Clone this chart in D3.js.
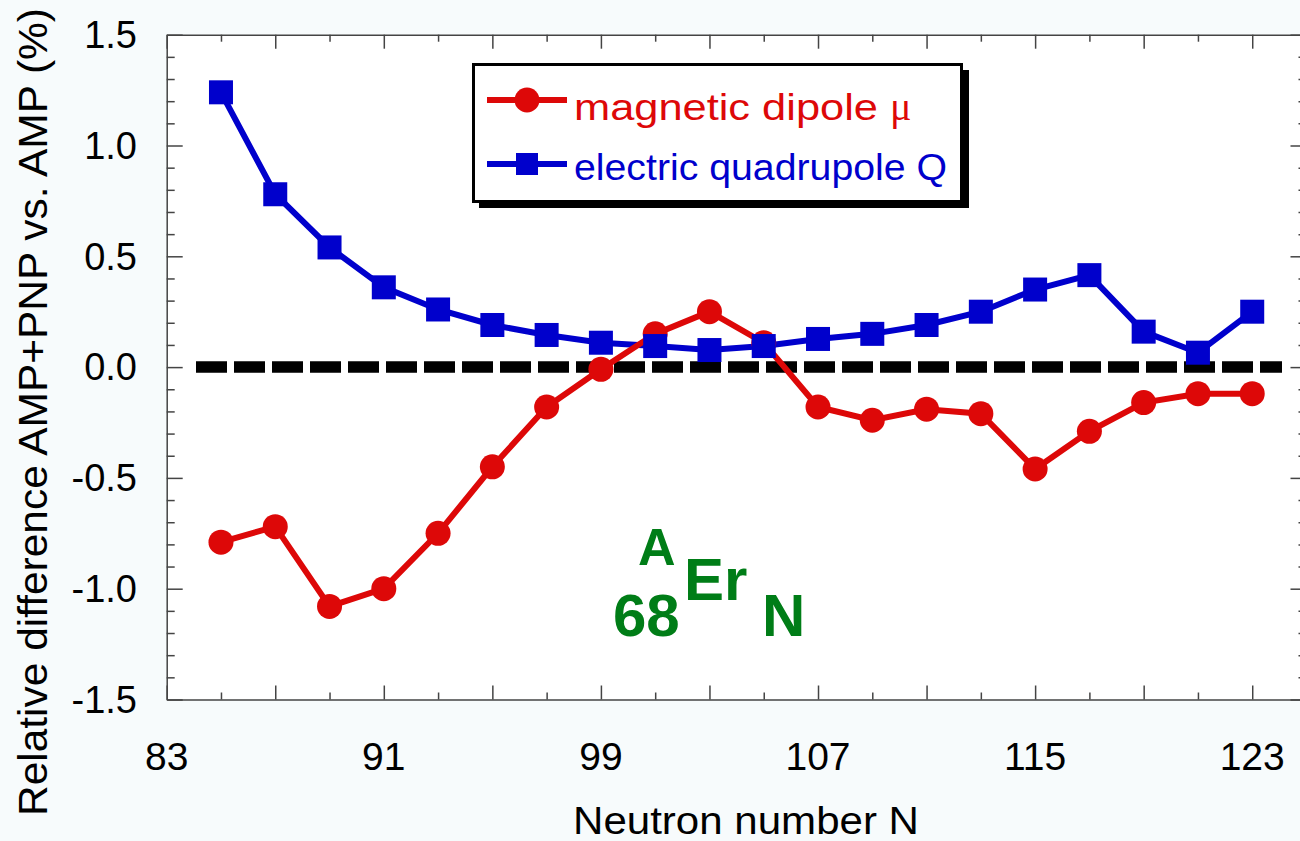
<!DOCTYPE html>
<html>
<head>
  <meta charset="utf-8">
  <title>Er isotopes: AMP+PNP vs AMP</title>
  <style>
    body { margin: 0; background: #f7fbfc; }
    svg { display: block; font-family: "Liberation Sans", Arial, sans-serif; }
  </style>
  <script src="https://d3js.org/d3.v7.min.js"></script>
</head>
<body>
  <div id="chart"></div>
  <script>
    // neutron numbers and the two series (percent)
    const neutrons = [85, 87, 89, 91, 93, 95, 97, 99, 101, 103, 105, 107, 109, 111, 113, 115, 117, 119, 121, 123];
    const dipole = [-0.79, -0.72, -1.08, -1.00, -0.75, -0.45, -0.18, -0.01, 0.15, 0.25, 0.11, -0.18, -0.24, -0.19, -0.21, -0.46, -0.29, -0.16, -0.12, -0.12];
    const quadrupole = [1.24, 0.78, 0.54, 0.36, 0.26, 0.19, 0.145, 0.11, 0.095, 0.077, 0.095, 0.127, 0.15, 0.19, 0.25, 0.35, 0.415, 0.16, 0.065, 0.25];
    const xTickLabels = [83, 91, 99, 107, 115, 123];
    const yTickLabels = [1.5, 1.0, 0.5, 0.0, -0.5, -1.0, -1.5];

    const W = 1300, H = 841;
    const plot = { left: 166.7, right: 1306.5, top: 34.7, bottom: 699.5 };

    const x = d3.scaleLinear().domain([83, 125]).range([plot.left, plot.right]);
    const y = d3.scaleLinear().domain([-1.5, 1.5]).range([plot.bottom, plot.top]);

    const red = '#dd0808', blue = '#0000cc', green = '#007d17';

    const svg = d3.select('#chart').append('svg')
      .attr('width', W)
      .attr('height', H);

    svg.append('rect').attr('width', W).attr('height', H).attr('fill', '#f7fbfc');
    svg.append('rect')
      .attr('x', plot.left).attr('y', plot.top)
      .attr('width', plot.right - plot.left).attr('height', plot.bottom - plot.top)
      .attr('fill', '#fff');

    // ticks, all pointing into the frame
    const xTicks = d3.range(83, 126, 2);
    const yTicks = d3.range(-15, 16).map(d => d / 10);
    const xLen = d => ((d - 83) % 4 === 0 ? 14 : 7);
    const yLen = d => (Math.round(d * 10) % 5 === 0 ? 16 : 8);

    function axis(gen, tr, sizeFn, ticks) {
      const g = svg.append('g').attr('transform', tr);
      g.call(gen.tickValues(ticks).tickFormat('').tickSizeOuter(0));
      g.selectAll('.tick line').each(function (d) {
        const el = d3.select(this), s = sizeFn(d);
        if (el.attr('y2') !== null && +el.attr('y2') !== 0) el.attr('y2', Math.sign(+el.attr('y2')) * s);
        if (el.attr('x2') !== null && +el.attr('x2') !== 0) el.attr('x2', Math.sign(+el.attr('x2')) * s);
      });
      g.selectAll('line, path').attr('stroke', '#444').attr('stroke-width', 1.5);
      return g;
    }
    axis(d3.axisBottom(x).tickSizeInner(-1), `translate(0,${plot.bottom})`, xLen, xTicks);
    axis(d3.axisTop(x).tickSizeInner(-1), `translate(0,${plot.top})`, xLen, xTicks);
    axis(d3.axisLeft(y).tickSizeInner(-1), `translate(${plot.left},0)`, yLen, yTicks);
    axis(d3.axisRight(y).tickSizeInner(-1), `translate(${plot.right},0)`, yLen, yTicks);

    // tick labels
    svg.append('g').selectAll('text').data(xTickLabels).join('text')
      .attr('x', d => x(d)).attr('y', 770)
      .attr('text-anchor', 'middle').attr('font-size', 39).attr('fill', '#000')
      .text(d => d);
    svg.append('g').selectAll('text').data(yTickLabels).join('text')
      .attr('x', 137).attr('y', d => y(d)).attr('dy', '0.35em')
      .attr('text-anchor', 'end').attr('font-size', 38).attr('fill', '#000')
      .text(d => d3.format('.1f')(d).replace('−', '-'));

    // axis titles
    svg.append('text')
      .attr('x', 746).attr('y', 834)
      .attr('text-anchor', 'middle').attr('font-size', 38)
      .attr('textLength', 346).attr('lengthAdjust', 'spacingAndGlyphs')
      .text('Neutron number N');
    svg.append('text')
      .attr('transform', 'translate(47,412) rotate(-90)')
      .attr('text-anchor', 'middle').attr('font-size', 40)
      .attr('textLength', 808).attr('lengthAdjust', 'spacingAndGlyphs')
      .text('Relative difference AMP+PNP vs. AMP (%)');

    // zero reference line
    svg.append('line')
      .attr('x1', 196).attr('x2', 1282)
      .attr('y1', y(0)).attr('y2', y(0))
      .attr('stroke', '#000').attr('stroke-width', 11.5)
      .attr('stroke-dasharray', '31 7');

    const line = d3.line().x(d => x(d[0])).y(d => y(d[1]));
    const dipPts = neutrons.map((n, i) => [n, dipole[i]]);
    const quadPts = neutrons.map((n, i) => [n, quadrupole[i]]);

    // quadrupole first, dipole on top where they overlap, then squares over
    svg.append('path').datum(quadPts).attr('d', line)
      .attr('fill', 'none').attr('stroke', blue).attr('stroke-width', 6);
    svg.append('path').datum(dipPts).attr('d', line)
      .attr('fill', 'none').attr('stroke', red).attr('stroke-width', 6);
    svg.append('g').selectAll('circle').data(dipPts).join('circle')
      .attr('cx', d => x(d[0])).attr('cy', d => y(d[1])).attr('r', 12.5)
      .attr('fill', red);
    svg.append('g').selectAll('rect').data(quadPts).join('rect')
      .attr('x', d => x(d[0]) - 12).attr('y', d => y(d[1]) - 12)
      .attr('width', 24).attr('height', 24)
      .attr('fill', blue);

    // legend with drop shadow
    const lg = svg.append('g');
    lg.append('rect').attr('x', 479).attr('y', 70).attr('width', 490).attr('height', 138).attr('fill', '#000');
    lg.append('rect').attr('x', 473.5).attr('y', 64.5).attr('width', 488).attr('height', 137)
      .attr('fill', '#fff').attr('stroke', '#000').attr('stroke-width', 3);
    lg.append('line').attr('x1', 487).attr('x2', 567).attr('y1', 100).attr('y2', 100)
      .attr('stroke', red).attr('stroke-width', 6);
    lg.append('circle').attr('cx', 527).attr('cy', 100).attr('r', 12.5).attr('fill', red);
    lg.append('line').attr('x1', 487).attr('x2', 567).attr('y1', 164).attr('y2', 164)
      .attr('stroke', blue).attr('stroke-width', 6);
    lg.append('rect').attr('x', 516).attr('y', 153).attr('width', 22).attr('height', 22).attr('fill', blue);
    const t1 = lg.append('text').attr('x', 574).attr('y', 120).attr('font-size', 37).attr('fill', red);
    t1.append('tspan').attr('textLength', 316).attr('lengthAdjust', 'spacingAndGlyphs').text('magnetic dipole ');
    t1.append('tspan').attr('font-family', '"Liberation Serif", "Times New Roman", serif').attr('font-size', 40).text('μ');
    lg.append('text').attr('x', 574).attr('y', 180).attr('font-size', 37).attr('fill', blue)
      .attr('textLength', 373).attr('lengthAdjust', 'spacingAndGlyphs')
      .text('electric quadrupole Q');

    // nuclide label
    const nl = svg.append('g').attr('fill', green).attr('font-weight', 'bold').attr('font-size', 60);
    nl.append('text').attr('x', 613).attr('y', 636).text('68');
    nl.append('text').attr('x', 638).attr('y', 565).attr('font-size', 52).text('A');
    nl.append('text').attr('x', 684).attr('y', 600).text('Er');
    nl.append('text').attr('x', 762).attr('y', 636).text('N');
  </script>
</body>
</html>
